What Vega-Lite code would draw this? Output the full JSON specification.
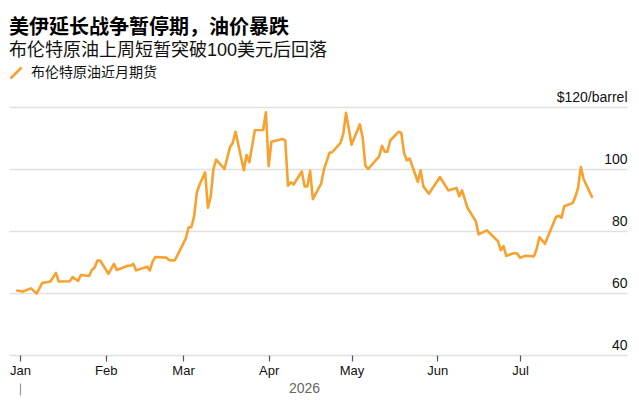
{
  "$schema": "https://vega.github.io/schema/vega-lite/v6.json",
  "width": 618,
  "height": 248,
  "autosize": "none",
  "padding": {"left": 9, "top": 107, "right": 12, "bottom": 51},
  "background": "white",
  "title": {
    "text": "美伊延长战争暂停期，油价暴跌",
    "subtitle": "布伦特原油上周短暂突破100美元后回落",
    "anchor": "start",
    "frame": "group",
    "offset": 6,
    "font": "Noto Sans CJK SC",
    "fontSize": 20,
    "fontWeight": "bold",
    "color": "#000",
    "subtitleFont": "Liberation Sans, Noto Sans CJK SC",
    "subtitleFontSize": 18,
    "subtitleColor": "#111",
    "subtitlePadding": 4
  },
  "data": {
    "values": [
      {"date": "2025-12-31", "price": 60.8},
      {"date": "2026-01-02", "price": 60.5},
      {"date": "2026-01-05", "price": 61.5},
      {"date": "2026-01-07", "price": 59.8},
      {"date": "2026-01-09", "price": 63.2},
      {"date": "2026-01-12", "price": 63.7},
      {"date": "2026-01-14", "price": 66.5},
      {"date": "2026-01-15", "price": 63.7},
      {"date": "2026-01-19", "price": 63.8},
      {"date": "2026-01-20", "price": 65.1},
      {"date": "2026-01-22", "price": 63.9},
      {"date": "2026-01-23", "price": 65.8},
      {"date": "2026-01-26", "price": 65.5},
      {"date": "2026-01-27", "price": 67.4},
      {"date": "2026-01-28", "price": 68.2},
      {"date": "2026-01-29", "price": 70.5},
      {"date": "2026-01-30", "price": 70.5},
      {"date": "2026-02-02", "price": 66.2},
      {"date": "2026-02-04", "price": 69.4},
      {"date": "2026-02-05", "price": 67.4},
      {"date": "2026-02-09", "price": 68.8},
      {"date": "2026-02-10", "price": 68.8},
      {"date": "2026-02-11", "price": 69.4},
      {"date": "2026-02-12", "price": 67.3},
      {"date": "2026-02-16", "price": 68.5},
      {"date": "2026-02-17", "price": 67.3},
      {"date": "2026-02-18", "price": 70.2},
      {"date": "2026-02-19", "price": 71.6},
      {"date": "2026-02-23", "price": 71.4},
      {"date": "2026-02-24", "price": 70.6},
      {"date": "2026-02-26", "price": 70.5},
      {"date": "2026-02-28", "price": 74.0},
      {"date": "2026-03-02", "price": 77.6},
      {"date": "2026-03-03", "price": 81.2},
      {"date": "2026-03-04", "price": 81.2},
      {"date": "2026-03-05", "price": 84.7},
      {"date": "2026-03-06", "price": 92.5},
      {"date": "2026-03-07", "price": 95.0},
      {"date": "2026-03-09", "price": 98.9},
      {"date": "2026-03-10", "price": 87.5},
      {"date": "2026-03-11", "price": 91.0},
      {"date": "2026-03-12", "price": 100.0},
      {"date": "2026-03-13", "price": 103.0},
      {"date": "2026-03-16", "price": 100.0},
      {"date": "2026-03-18", "price": 107.1},
      {"date": "2026-03-19", "price": 108.4},
      {"date": "2026-03-20", "price": 112.0},
      {"date": "2026-03-23", "price": 99.6},
      {"date": "2026-03-24", "price": 104.5},
      {"date": "2026-03-25", "price": 102.2},
      {"date": "2026-03-27", "price": 112.5},
      {"date": "2026-03-30", "price": 112.6},
      {"date": "2026-03-31", "price": 118.3},
      {"date": "2026-04-01", "price": 100.9},
      {"date": "2026-04-02", "price": 108.8},
      {"date": "2026-04-06", "price": 109.7},
      {"date": "2026-04-07", "price": 109.2},
      {"date": "2026-04-08", "price": 94.6},
      {"date": "2026-04-09", "price": 95.7},
      {"date": "2026-04-10", "price": 95.0},
      {"date": "2026-04-13", "price": 99.2},
      {"date": "2026-04-14", "price": 94.4},
      {"date": "2026-04-15", "price": 94.4},
      {"date": "2026-04-16", "price": 99.4},
      {"date": "2026-04-17", "price": 90.3},
      {"date": "2026-04-20", "price": 95.3},
      {"date": "2026-04-21", "price": 99.8},
      {"date": "2026-04-23", "price": 105.2},
      {"date": "2026-04-24", "price": 105.4},
      {"date": "2026-04-27", "price": 108.4},
      {"date": "2026-04-28", "price": 111.3},
      {"date": "2026-04-29", "price": 118.1},
      {"date": "2026-05-01", "price": 107.8},
      {"date": "2026-05-04", "price": 114.4},
      {"date": "2026-05-05", "price": 110.3},
      {"date": "2026-05-06", "price": 101.1},
      {"date": "2026-05-07", "price": 100.0},
      {"date": "2026-05-11", "price": 104.1},
      {"date": "2026-05-12", "price": 107.5},
      {"date": "2026-05-13", "price": 105.6},
      {"date": "2026-05-14", "price": 105.6},
      {"date": "2026-05-15", "price": 109.2},
      {"date": "2026-05-18", "price": 112.0},
      {"date": "2026-05-19", "price": 111.6},
      {"date": "2026-05-20", "price": 105.2},
      {"date": "2026-05-21", "price": 102.8},
      {"date": "2026-05-22", "price": 103.4},
      {"date": "2026-05-25", "price": 95.9},
      {"date": "2026-05-26", "price": 99.6},
      {"date": "2026-05-27", "price": 94.4},
      {"date": "2026-05-29", "price": 92.0},
      {"date": "2026-06-02", "price": 97.4},
      {"date": "2026-06-05", "price": 93.1},
      {"date": "2026-06-08", "price": 93.9},
      {"date": "2026-06-09", "price": 91.2},
      {"date": "2026-06-10", "price": 93.1},
      {"date": "2026-06-12", "price": 87.4},
      {"date": "2026-06-15", "price": 83.1},
      {"date": "2026-06-16", "price": 78.9},
      {"date": "2026-06-19", "price": 80.2},
      {"date": "2026-06-23", "price": 76.7},
      {"date": "2026-06-24", "price": 73.8},
      {"date": "2026-06-25", "price": 75.1},
      {"date": "2026-06-26", "price": 72.0},
      {"date": "2026-06-29", "price": 72.9},
      {"date": "2026-06-30", "price": 72.7},
      {"date": "2026-07-01", "price": 71.4},
      {"date": "2026-07-03", "price": 72.0},
      {"date": "2026-07-06", "price": 71.8},
      {"date": "2026-07-07", "price": 74.2},
      {"date": "2026-07-08", "price": 78.0},
      {"date": "2026-07-10", "price": 75.9},
      {"date": "2026-07-14", "price": 84.5},
      {"date": "2026-07-15", "price": 84.9},
      {"date": "2026-07-16", "price": 84.3},
      {"date": "2026-07-17", "price": 88.0},
      {"date": "2026-07-20", "price": 89.0},
      {"date": "2026-07-21", "price": 91.0},
      {"date": "2026-07-22", "price": 93.9},
      {"date": "2026-07-23", "price": 100.6},
      {"date": "2026-07-24", "price": 96.8},
      {"date": "2026-07-27", "price": 91.0}
    ]
  },
  "layer": [
    {
      "mark": {"type": "line", "strokeWidth": 2.6, "strokeJoin": "round", "strokeCap": "round"},
      "encoding": {
        "x": {
          "field": "date",
          "type": "temporal",
          "scale": {
            "type": "utc",
            "nice": false,
            "domain": [
              {"year": 2025, "month": 12, "date": 28, "utc": true},
              {"year": 2026, "month": 8, "date": 8, "hours": 17, "utc": true}
            ]
          },
          "axis": {
            "values": [
              {"year": 2026, "month": 1, "date": 1, "utc": true},
              {"year": 2026, "month": 2, "date": 1, "utc": true},
              {"year": 2026, "month": 3, "date": 1, "utc": true},
              {"year": 2026, "month": 4, "date": 1, "utc": true},
              {"year": 2026, "month": 5, "date": 1, "utc": true},
              {"year": 2026, "month": 6, "date": 1, "utc": true},
              {"year": 2026, "month": 7, "date": 1, "utc": true}
            ],
            "labelExpr": "utcFormat(datum.value, '%b')",
            "orient": "bottom",
            "title": "2026",
            "titleX": 295,
            "titleY": 33,
            "titleAlign": "center",
            "titleBaseline": "middle",
            "titleFont": "Liberation Sans",
            "titleFontSize": 14,
            "titleFontWeight": "normal",
            "titleColor": "#666",
            "domain": false,
            "grid": false,
            "ticks": true,
            "tickSize": 6,
            "tickColor": "#555",
            "tickWidth": 1.2,
            "labelPadding": 3,
            "labelFont": "Liberation Sans",
            "labelFontSize": 13,
            "labelColor": "#111",
            "labelFlush": false
          }
        },
        "y": {
          "field": "price",
          "type": "quantitative",
          "scale": {"domain": [40, 120], "nice": false, "zero": false},
          "axis": {
            "orient": "right",
            "values": [40, 60, 80, 100, 120],
            "title": null,
            "domain": false,
            "ticks": false,
            "tickSize": 0,
            "labelPadding": 0,
            "labelAlign": "right",
            "labelBaseline": "alphabetic",
            "labelOffset": -6,
            "labelFont": "Liberation Sans",
            "labelFontSize": 14,
            "labelColor": "#111",
            "labelBound": false,
            "labelOverlap": false,
            "labelExpr": "datum.value == 120 ? '$120/barrel' : datum.label",
            "grid": true,
            "gridColor": "#e0e0e0",
            "gridWidth": 1.6
          }
        },
        "stroke": {
          "datum": "布伦特原油近月期货",
          "scale": {"range": ["#f9a12e"]},
          "legend": {
            "orient": "none",
            "legendX": 0,
            "legendY": -41,
            "title": null,
            "symbolType": "M-1,1L1,-1",
            "symbolSize": 121,
            "symbolStrokeWidth": 2.6,
            "symbolFillColor": "transparent",
            "labelFont": "Noto Sans CJK SC",
            "labelFontSize": 14,
            "labelColor": "#111",
            "labelOffset": 8
          }
        }
      }
    },
    {
      "mark": {"type": "line", "opacity": 0},
      "encoding": {
        "x": {
          "field": "date",
          "type": "temporal",
          "axis": {
            "orient": "bottom",
            "values": [{"year": 2026, "month": 1, "date": 1, "utc": true}],
            "labels": false,
            "domain": false,
            "grid": false,
            "title": null,
            "ticks": true,
            "tickSize": 12,
            "tickColor": "#999",
            "tickWidth": 1.2,
            "offset": 28
          }
        },
        "y": {"field": "price", "type": "quantitative", "axis": null}
      }
    }
  ],
  "resolve": {"axis": {"x": "independent", "y": "independent"}},
  "config": {
    "view": {"stroke": null}
  }
}
